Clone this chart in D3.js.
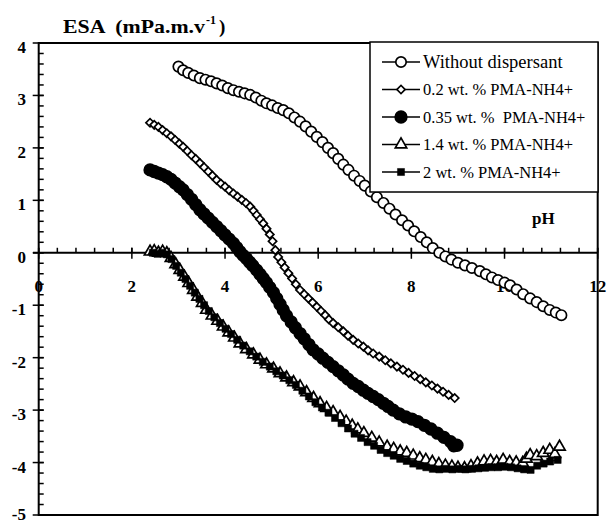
<!DOCTYPE html>
<html>
<head>
<meta charset="utf-8">
<script src="https://cdn.jsdelivr.net/npm/d3@7"></script>
<style>
  body { margin: 0; background: #fff; }
  text { font-family: "Liberation Serif", "Times New Roman", "DejaVu Serif", serif; fill: #000; }
</style>
</head>
<body>
<div id="my_dataviz"></div>
<script>
var width = 607
var height = 524

// Data: pH and ESA
var noDispPH = [3.00,3.10,3.21,3.33,3.46,3.58,3.70,3.82,3.94,4.06,4.18,4.30,4.42,4.54,4.66,4.78,4.89,5.01,5.13,5.25,5.37,5.49,5.61,5.73,5.85,5.97,6.09,6.21,6.32,6.43,6.54,6.65,6.77,6.89,7.00,7.13,7.26,7.40,7.53,7.66,7.80,7.93,8.06,8.20,8.33,8.46,8.60,8.73,8.86,9.00,9.15,9.30,9.47,9.60,9.73,9.86,10.00,10.12,10.26,10.40,10.55,10.69,10.83,10.97,11.10,11.22]
var noDispESA = [3.55,3.48,3.43,3.38,3.33,3.30,3.27,3.23,3.19,3.14,3.10,3.07,3.04,3.01,2.96,2.90,2.85,2.81,2.76,2.72,2.66,2.58,2.50,2.41,2.31,2.21,2.11,2.00,1.90,1.79,1.68,1.58,1.47,1.37,1.28,1.17,1.06,0.95,0.84,0.73,0.62,0.52,0.41,0.30,0.20,0.09,0.00,-0.07,-0.13,-0.19,-0.24,-0.29,-0.35,-0.41,-0.47,-0.52,-0.57,-0.62,-0.70,-0.79,-0.87,-0.94,-1.02,-1.09,-1.14,-1.19]

var pma02PH = [2.39,2.48,2.57,2.66,2.75,2.84,2.93,3.02,3.10,3.19,3.28,3.37,3.46,3.55,3.64,3.73,3.82,3.91,4.00,4.09,4.18,4.27,4.36,4.45,4.54,4.61,4.68,4.75,4.82,4.89,4.96,5.02,5.08,5.14,5.21,5.28,5.36,5.44,5.52,5.61,5.70,5.79,5.88,5.97,6.06,6.15,6.23,6.32,6.43,6.54,6.64,6.75,6.86,6.97,7.07,7.18,7.31,7.44,7.56,7.69,7.82,7.94,8.07,8.19,8.31,8.44,8.56,8.68,8.80,8.93]
var pma02ESA = [2.48,2.44,2.40,2.34,2.28,2.22,2.15,2.08,2.02,1.94,1.86,1.79,1.71,1.63,1.55,1.47,1.39,1.32,1.26,1.19,1.13,1.07,1.01,0.95,0.88,0.80,0.72,0.64,0.56,0.46,0.35,0.22,0.05,-0.08,-0.18,-0.28,-0.39,-0.49,-0.60,-0.71,-0.79,-0.87,-0.95,-1.03,-1.11,-1.19,-1.27,-1.34,-1.42,-1.50,-1.58,-1.66,-1.73,-1.79,-1.86,-1.92,-1.98,-2.05,-2.11,-2.17,-2.23,-2.29,-2.35,-2.41,-2.47,-2.53,-2.59,-2.65,-2.71,-2.77]

var pma035PH = [2.39,2.48,2.57,2.66,2.75,2.84,2.93,3.02,3.10,3.19,3.28,3.37,3.46,3.55,3.64,3.73,3.82,3.91,4.00,4.09,4.18,4.25,4.32,4.39,4.46,4.53,4.60,4.68,4.75,4.82,4.89,4.96,5.04,5.11,5.18,5.25,5.32,5.42,5.51,5.61,5.70,5.80,5.89,6.00,6.10,6.21,6.32,6.43,6.54,6.64,6.75,6.86,6.97,7.07,7.18,7.29,7.40,7.50,7.61,7.74,7.88,8.01,8.14,8.28,8.42,8.56,8.70,8.84,8.91,8.98]
var pma035ESA = [1.58,1.55,1.52,1.49,1.45,1.40,1.33,1.26,1.20,1.11,1.02,0.92,0.82,0.74,0.66,0.58,0.50,0.42,0.34,0.26,0.18,0.10,0.02,-0.05,-0.11,-0.18,-0.25,-0.33,-0.41,-0.49,-0.57,-0.66,-0.76,-0.87,-0.98,-1.09,-1.20,-1.32,-1.43,-1.54,-1.64,-1.75,-1.85,-1.93,-2.01,-2.09,-2.17,-2.25,-2.33,-2.41,-2.49,-2.55,-2.62,-2.68,-2.74,-2.80,-2.87,-2.93,-3.00,-3.07,-3.13,-3.17,-3.22,-3.29,-3.36,-3.44,-3.52,-3.60,-3.68,-3.67]

var pma14PH = [2.39,2.48,2.57,2.66,2.75,2.84,2.94,3.03,3.13,3.22,3.32,3.41,3.51,3.60,3.72,3.84,3.96,4.08,4.20,4.32,4.46,4.61,4.75,4.89,5.04,5.18,5.32,5.47,5.61,5.75,5.90,6.04,6.18,6.32,6.47,6.60,6.73,6.85,6.98,7.15,7.31,7.48,7.62,7.76,7.90,8.04,8.18,8.31,8.45,8.59,8.73,8.87,9.00,9.14,9.28,9.42,9.56,9.70,9.83,9.97,10.11,10.25,10.39,10.47,10.55,10.69,10.83,10.97,11.08,11.18]
var pma14ESA = [0.02,0.03,0.00,0.02,-0.01,-0.10,-0.22,-0.33,-0.46,-0.58,-0.71,-0.84,-0.96,-1.09,-1.20,-1.30,-1.41,-1.52,-1.62,-1.73,-1.84,-1.94,-2.04,-2.13,-2.21,-2.30,-2.38,-2.47,-2.55,-2.66,-2.77,-2.87,-2.96,-3.04,-3.13,-3.22,-3.30,-3.37,-3.44,-3.53,-3.62,-3.70,-3.74,-3.79,-3.82,-3.87,-3.92,-3.95,-3.99,-4.03,-4.06,-4.08,-4.10,-4.11,-4.07,-4.02,-3.98,-3.97,-3.99,-3.95,-3.99,-4.00,-4.01,-3.93,-3.86,-3.88,-3.82,-3.76,-3.84,-3.70]

var pma2PH = [2.45,2.55,2.65,2.75,2.85,2.95,3.05,3.15,3.25,3.35,3.45,3.55,3.65,3.77,3.89,4.01,4.13,4.26,4.39,4.53,4.67,4.81,4.96,5.10,5.24,5.38,5.52,5.66,5.80,5.94,6.08,6.22,6.36,6.50,6.64,6.78,6.92,7.06,7.20,7.34,7.48,7.62,7.76,7.90,8.04,8.18,8.32,8.46,8.60,8.74,8.88,9.02,9.16,9.30,9.44,9.58,9.72,9.86,10.00,10.14,10.28,10.42,10.56,10.70,10.84,10.98,11.14]
var pma2ESA = [0.00,-0.02,0.00,-0.03,-0.12,-0.25,-0.38,-0.50,-0.63,-0.76,-0.88,-1.00,-1.11,-1.23,-1.34,-1.45,-1.55,-1.66,-1.77,-1.88,-1.98,-2.08,-2.17,-2.26,-2.34,-2.43,-2.52,-2.63,-2.74,-2.85,-2.95,-3.05,-3.15,-3.25,-3.35,-3.45,-3.53,-3.61,-3.68,-3.76,-3.82,-3.87,-3.93,-3.97,-4.02,-4.06,-4.09,-4.12,-4.13,-4.12,-4.13,-4.12,-4.13,-4.12,-4.11,-4.10,-4.09,-4.09,-4.08,-4.09,-4.11,-4.13,-4.14,-4.06,-4.02,-3.98,-3.95]

var seriesNames = ["Without dispersant", "0.2 wt. % PMA-NH4+", "0.35 wt. %  PMA-NH4+", "1.4 wt. % PMA-NH4+", "2 wt. % PMA-NH4+"]
var xTickLabels = [0, 2, 4, 6, 8, 10, 12]
var yTickLabels = [4, 3, 2, 1, 0, -1, -2, -3, -4, -5]

function zip(xs, ys) { return xs.map(function (v, i) { return { ph: v, esa: ys[i] } }) }

var series = [
    { name: seriesNames[0], pts: zip(noDispPH, noDispESA), shape: "circle", fill: "#fff", r: 5.2 },
    { name: seriesNames[1], pts: zip(pma02PH, pma02ESA), shape: "diamond", fill: "#fff" },
    { name: seriesNames[2], pts: zip(pma035PH, pma035ESA), shape: "circle", fill: "#000", r: 5.8 },
    { name: seriesNames[3], pts: zip(pma14PH, pma14ESA), shape: "triangle", fill: "#fff" },
    { name: seriesNames[4], pts: zip(pma2PH, pma2ESA), shape: "square", fill: "#000" }
]

// The svg
var svg = d3.select("#my_dataviz")
    .append("svg")
    .attr("width", width)
    .attr("height", height)

// Scales
var x = d3.scaleLinear().domain([0, 12]).range([38.7, 597.7])
var y = d3.scaleLinear().domain([-5, 4]).range([515, 43])

// Frame
svg.append("rect")
    .attr("x", x(0)).attr("y", y(4))
    .attr("width", x(12) - x(0)).attr("height", y(-5) - y(4))
    .attr("fill", "none").attr("stroke", "#000").attr("stroke-width", 2)

// y ticks: minor inside, major across
var yMinor = d3.range(-5, 4.001, 0.2)
svg.append("g").selectAll("line").data(yMinor).enter().append("line")
    .attr("x1", x(0)).attr("x2", x(0) + 5)
    .attr("y1", function (d) { return y(d) }).attr("y2", function (d) { return y(d) })
    .attr("stroke", "#000").attr("stroke-width", 1.5)
svg.append("g").selectAll("line").data(yTickLabels).enter().append("line")
    .attr("x1", x(0) - 6).attr("x2", x(0) + 5)
    .attr("y1", function (d) { return y(d) }).attr("y2", function (d) { return y(d) })
    .attr("stroke", "#000").attr("stroke-width", 1.5)
svg.append("g").selectAll("text").data(yTickLabels).enter().append("text")
    .attr("x", 26)
    .attr("y", function (d) { return Math.min(y(d) + 10, 520) })
    .attr("text-anchor", "end")
    .style("font-size", "17px").style("font-weight", "bold")
    .text(function (d) { return d })

// x axis along zero
svg.append("line")
    .attr("x1", 33).attr("x2", x(12))
    .attr("y1", y(0)).attr("y2", y(0))
    .attr("stroke", "#000").attr("stroke-width", 2)
var xMinor = d3.range(0, 12.001, 0.4)
svg.append("g").selectAll("line").data(xMinor).enter().append("line")
    .attr("x1", function (d) { return x(d) }).attr("x2", function (d) { return x(d) })
    .attr("y1", y(0)).attr("y2", y(0) - 5)
    .attr("stroke", "#000").attr("stroke-width", 1.5)
svg.append("g").selectAll("line").data(xTickLabels).enter().append("line")
    .attr("x1", function (d) { return x(d) }).attr("x2", function (d) { return x(d) })
    .attr("y1", y(0) - 5).attr("y2", y(0) + 6)
    .attr("stroke", "#000").attr("stroke-width", 1.5)
svg.append("g").selectAll("text").data(xTickLabels).enter().append("text")
    .attr("x", function (d) { return x(d) })
    .attr("y", y(0) + 39)
    .attr("text-anchor", "middle")
    .style("font-size", "17px").style("font-weight", "bold")
    .text(function (d) { return d })

// Axis titles
svg.append("text")
    .attr("x", 63).attr("y", 33)
    .attr("textLength", 142).attr("lengthAdjust", "spacingAndGlyphs")
    .style("white-space", "pre")
    .style("font-size", "19px").style("font-weight", "bold")
    .text("ESA  (mPa.m.v")
svg.append("text")
    .attr("x", 206).attr("y", 24)
    .style("font-size", "12px").style("font-weight", "bold")
    .text("-1")
svg.append("text")
    .attr("x", 219).attr("y", 33)
    .style("font-size", "19px").style("font-weight", "bold")
    .text(")")
svg.append("text")
    .attr("x", 532).attr("y", 224)
    .style("font-size", "17px").style("font-weight", "bold")
    .text("pH")

// Marker helper
function drawMarker(g, s, px, py) {
    if (s.shape == "circle") {
        g.append("circle").attr("cx", px).attr("cy", py).attr("r", s.r)
            .attr("fill", s.fill).attr("stroke", "#000").attr("stroke-width", 1.7)
        return
    }
    var sym = { diamond: d3.symbolSquare, triangle: d3.symbolTriangle, square: d3.symbolSquare }[s.shape]
    var size = { diamond: 34, triangle: 56, square: 50 }[s.shape]
    g.append("path")
        .attr("d", d3.symbol().type(sym).size(size)())
        .attr("transform", "translate(" + px + "," + py + ")" + (s.shape == "diamond" ? " rotate(45)" : ""))
        .attr("fill", s.fill).attr("stroke", "#000").attr("stroke-width", s.shape == "square" ? 0.5 : 1.7)
}

var line = d3.line()
    .x(function (d) { return x(d.ph) })
    .y(function (d) { return y(d.esa) })

// Draw the series
series.forEach(function (s) {
    var g = svg.append("g")
    g.append("path").datum(s.pts)
        .attr("d", line)
        .attr("fill", "none").attr("stroke", "#000").attr("stroke-width", 1.2)
    s.pts.forEach(function (d) { drawMarker(g, s, x(d.ph), y(d.esa)) })
})

// Legend
var lg = svg.append("g")
lg.append("rect")
    .attr("x", 370).attr("y", 42).attr("width", 228).attr("height", 150)
    .attr("fill", "#fff").attr("stroke", "#000").attr("stroke-width", 1.5)
series.forEach(function (s, i) {
    var ry = 62 + i * 27.5
    lg.append("line").attr("x1", 382).attr("x2", 420).attr("y1", ry).attr("y2", ry)
        .attr("stroke", "#000").attr("stroke-width", 1.5)
    drawMarker(lg, s, 401, ry)
    lg.append("text")
        .attr("x", 423).attr("y", ry + 5.5)
        .style("white-space", "pre")
        .style("font-size", i == 0 ? "18.5px" : "16.5px")
        .text(s.name)
})
</script>
</body>
</html>
